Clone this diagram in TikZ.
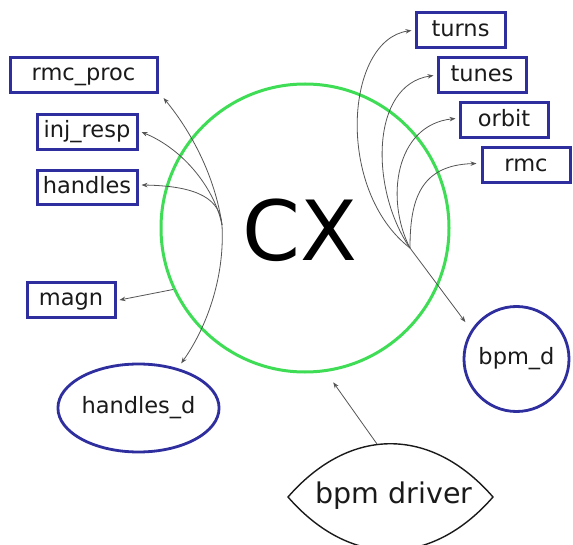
\documentclass[tikz,border=0pt]{standalone}
\usepackage{fontspec}
\setmainfont{DejaVu Sans}
\usetikzlibrary{arrows.meta,shapes.geometric}
\definecolor{boxblue}{HTML}{2E2E9E}
\definecolor{ringgreen}{HTML}{3FDD55}
\definecolor{edgegray}{HTML}{555555}
\definecolor{txt}{HTML}{1A1A1A}
\begin{document}
\begin{tikzpicture}[x=1pt,y=-1pt,
  box/.style={draw=boxblue, line width=3pt, rectangle, inner sep=0pt,
    minimum height=35pt, text=txt, text height=16pt, text depth=4.5pt,
    font=\fontsize{22.5}{26}\selectfont},
  roundbox/.style={draw=boxblue, line width=2.8pt, inner sep=0pt, text=txt,
    font=\fontsize{22.5}{26}\selectfont},
  edge/.style={draw=edgegray, line width=0.8pt, -{Stealth[length=6pt,width=4.5pt]}},
]
\useasboundingbox[fill=white] (0,0) rectangle (573,545);

% central ring
\node[draw=ringgreen, line width=3pt, circle, minimum size=288pt, inner sep=0pt] (cx) at (305,228) {};
\node[font=\fontsize{83}{90}\selectfont, text=black] (cxlabel) at (300,230) {CX};

% left nodes
\node[box, minimum width=147pt] (rmcproc) at (83.5,75) {rmc\_proc};
\node[box, minimum width=100pt] (injresp) at (87,132) {inj\_resp};
\node[box, minimum width=100pt, minimum height=34pt] (handles) at (87,188) {handles};
\node[box, minimum width=88pt] (magn) at (71,300) {magn};
\node[roundbox, ellipse, minimum width=147pt, minimum height=88pt] (handlesd) at (138.5,408) {handles\_d};

% right nodes
\node[box, minimum width=89pt] (turns) at (460.5,30.5) {turns};
\node[box, minimum width=88pt] (tunes) at (482,75.5) {tunes};
\node[box, minimum width=88pt] (orbit) at (504,120.5) {orbit};
\node[box, minimum width=88pt] (rmc) at (526,165.5) {rmc};
\node[roundbox, circle, minimum size=105pt] (bpmd) at (516.5,359) {bpm\_d};

% bpm driver lens
\draw[line width=1.4pt, draw=txt] (288,497) .. controls (350,426) and (431,426) .. (493,497)
  .. controls (431,568) and (350,568) .. (288,497) -- cycle;
\node[text=txt, font=\fontsize{28.5}{32}\selectfont] (bpmdrv) at (394,496) {bpm driver};
\coordinate (bpmdrvtop) at (377,444);

% hubs
\coordinate (lhub) at (222,225);
\coordinate (rhub) at (410,248);

% left edges
\draw[edge] (lhub) .. controls (215,175) and (190,130) .. ([shift={(5,4)}]rmcproc.south east);
\draw[edge] (lhub) .. controls (215,190) and (185,150) .. ([xshift=3pt]injresp.east);
\draw[edge] (lhub) .. controls (220,200) and (200,186) .. ([xshift=3pt,yshift=3pt]handles.east);
\draw[edge] (lhub) .. controls (225,280) and (205,330) .. ([shift={(3,-5)}]handlesd.45);
\draw[edge] (cx.205) -- ([xshift=3pt]magn.east);

% right edges
\draw[edge] (rhub) .. controls (335,190) and (345,40) .. ([xshift=-3pt]turns.west);
\draw[edge] (rhub) .. controls (370,190) and (370,85) .. ([xshift=-3pt]tunes.west);
\draw[edge] (rhub) .. controls (385,200) and (395,125) .. ([xshift=-3pt,yshift=2pt]orbit.west);
\draw[edge] (rhub) .. controls (410,200) and (420,165) .. ([xshift=-4pt,yshift=2pt]rmc.west);
\draw[edge] (rhub) -- ([shift={(-7,-6)}]bpmd.145);

% driver edge
\draw[edge] (bpmdrvtop) -- ([shift={(-2,12)}]cx.282);
\end{tikzpicture}
\end{document}
